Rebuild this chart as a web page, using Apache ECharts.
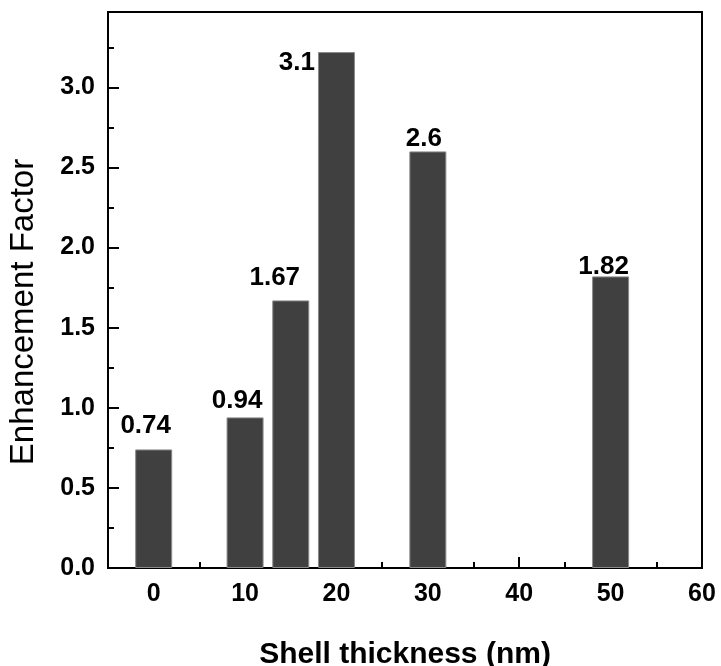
<!DOCTYPE html>
<html>
<head>
<meta charset="utf-8">
<script src="https://cdn.jsdelivr.net/npm/echarts@6/dist/echarts.min.js"></script>
<style>
  html, body { margin: 0; padding: 0; background: #fff; }
  #chart { width: 721px; height: 666px; }
</style>
</head>
<body>
<div id="chart"></div>
<script>
// data
var thickness = [0, 10, 15, 20, 30, 50];
var factors = [0.74, 0.94, 1.67, 3.22, 2.6, 1.82];
var barLabels = ['0.74', '0.94', '1.67', '3.1', '2.6', '1.82'];
var xTicks = [0, 10, 20, 30, 40, 50, 60];
var xMinorTicks = [5, 15, 25, 35, 45, 55];
var yTicks = [0, 0.5, 1.0, 1.5, 2.0, 2.5, 3.0];
var yMinorTicks = [0.25, 0.75, 1.25, 1.75, 2.25, 2.75, 3.25];

var font = 'Liberation Sans, Arial, sans-serif';

// label nudges, per bar
var labelOffsets = [[-8, -6], [-8, 1], [-16, -5], [0, 0], [-4, 5], [-7, 8]];

var barData = [];
for (var i = 0; i < thickness.length; i++) {
  var item = {
    value: [thickness[i], factors[i]],
    label: { formatter: barLabels[i], offset: labelOffsets[i] }
  };
  if (i == 3) {
    // the 3.1 label sits to the left of the bar top
    item.label = {
      formatter: barLabels[i],
      position: [-3, 11],
      align: 'right',
      verticalAlign: 'middle'
    };
  }
  barData.push(item);
}

var chart = echarts.init(document.getElementById('chart'));

var option = {
  animation: false,
  grid: {
    left: 108, right: 19, top: 12, bottom: 98,
    outerBoundsMode: 'none',
    containLabel: false,
    show: true, borderColor: '#000', borderWidth: 2
  },
  xAxis: [
    {
      type: 'value', min: -5, max: 60,
      name: 'Shell thickness (nm)',
      nameLocation: 'middle',
      nameGap: 72,
      nameTextStyle: { fontFamily: font, fontSize: 30, fontWeight: 'bold', color: '#000' },
      axisLine: { onZero: false, lineStyle: { color: '#000', width: 2 } },
      axisTick: { inside: true, length: 11, customValues: xTicks, lineStyle: { color: '#000', width: 2 } },
      axisLabel: {
        customValues: xTicks, margin: 14, color: '#000',
        fontFamily: font, fontSize: 25, fontWeight: 'bold'
      },
      splitLine: { show: false }
    },
    {
      type: 'value', min: -5, max: 60, position: 'bottom',
      axisLine: { show: false, onZero: false },
      axisTick: { inside: true, length: 6, customValues: xMinorTicks, lineStyle: { color: '#000', width: 2 } },
      axisLabel: { show: false },
      splitLine: { show: false }
    }
  ],
  yAxis: [
    {
      type: 'value', min: 0, max: 3.47,
      name: 'Enhancement Factor',
      nameLocation: 'middle',
      nameGap: 68,
      nameTextStyle: { fontFamily: font, fontSize: 33, color: '#000', padding: [0, 44, 0, 0] },
      axisLine: { show: true, onZero: false, lineStyle: { color: '#000', width: 2 } },
      axisTick: { show: true, inside: true, length: 11, customValues: yTicks, lineStyle: { color: '#000', width: 2 } },
      axisLabel: {
        customValues: yTicks, margin: 13, color: '#000',
        fontFamily: font, fontSize: 25, fontWeight: 'bold',
        formatter: function (v) { return v.toFixed(1); }
      },
      splitLine: { show: false }
    },
    {
      type: 'value', min: 0, max: 3.47, position: 'left', offset: 0,
      axisLine: { show: false, onZero: false },
      axisTick: { show: true, inside: true, length: 6, customValues: yMinorTicks, lineStyle: { color: '#000', width: 2 } },
      axisLabel: { show: false },
      splitLine: { show: false }
    }
  ],
  series: [
    {
      type: 'bar',
      xAxisIndex: 0,
      yAxisIndex: 0,
      barWidth: 37,
      data: barData,
      itemStyle: { color: '#404040', borderColor: '#8a8a8a', borderWidth: 1 },
      label: {
        show: true, position: 'top', color: '#000',
        fontFamily: font, fontSize: 26, fontWeight: 'bold'
      }
    }
  ]
};

chart.setOption(option);
</script>
</body>
</html>
